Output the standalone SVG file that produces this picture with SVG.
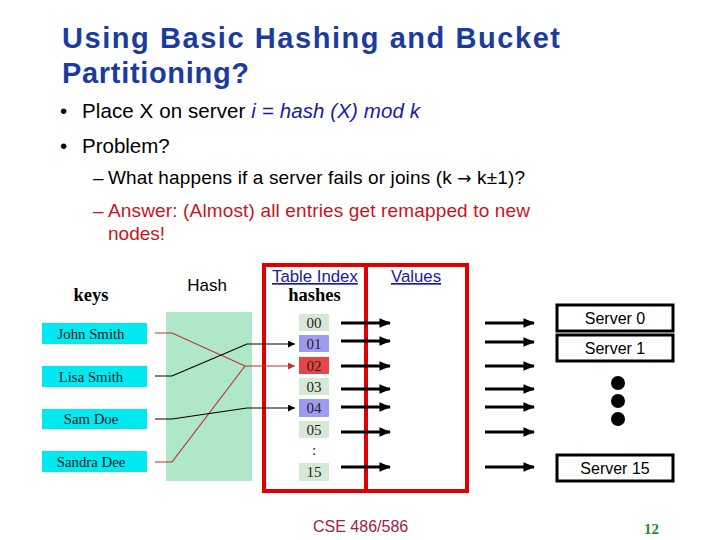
<svg xmlns="http://www.w3.org/2000/svg" width="720" height="540" viewBox="0 0 720 540">
<style>
.title{font-family:"Liberation Sans",Arial,sans-serif;font-size:29px;font-weight:bold;fill:#1B3C9E}
.body{font-family:"Liberation Sans",Arial,sans-serif;font-size:20.5px;fill:#000}
.sub{font-family:"Liberation Sans",Arial,sans-serif;font-size:19px;fill:#000}
.ans{fill:#C8141E}
.math{fill:#1A1AA6;font-style:italic}
.arw{font-family:"DejaVu Sans",sans-serif;font-size:17px}
.serifb{font-family:"Liberation Serif","Times New Roman",serif;font-weight:bold;font-size:18.5px;fill:#000}
.key rect{fill:#00E8F0}
.key text{font-family:"Liberation Serif","Times New Roman",serif;font-size:14.8px;fill:#1a1a1a;text-anchor:middle}
.cell text{font-family:"Liberation Serif","Times New Roman",serif;font-size:15px;fill:#222;text-anchor:middle}
.g{fill:#D6E8D6}.b{fill:#9C9CF0}.r{fill:#E84646}
.srv rect{fill:#fff;stroke:#000;stroke-width:3}
.srv text{font-family:"Liberation Sans",Arial,sans-serif;font-size:16px;fill:#000;text-anchor:middle}
.lbl{font-family:"Liberation Sans",Arial,sans-serif;font-size:16.8px;fill:#1A1AA6;text-decoration:underline}
.thick{stroke:#000;stroke-width:3;fill:none;marker-end:url(#big)}
.thin{stroke:#000;stroke-width:1.2;fill:none}
.red{stroke:#C03030;stroke-width:1.2;fill:none}
</style>
<defs>
<marker id="big" viewBox="0 0 12 10" refX="11" refY="5" markerWidth="4" markerHeight="3.2" orient="auto" markerUnits="strokeWidth"><path d="M0,0 L12,5 L0,10 z" fill="#000"/></marker>
<marker id="ab" viewBox="0 0 10 10" refX="10" refY="5" markerWidth="12" markerHeight="7" orient="auto" markerUnits="userSpaceOnUse"><path d="M0,0 L10,5 L0,10 z" fill="#000"/></marker>
<marker id="ar" viewBox="0 0 10 10" refX="10" refY="5" markerWidth="12" markerHeight="7" orient="auto" markerUnits="userSpaceOnUse"><path d="M0,0 L10,5 L0,10 z" fill="#C03030"/></marker>
</defs>
<rect width="720" height="540" fill="#fff"/>
<g id="title">
<text class="title" x="62" y="48" textLength="498" lengthAdjust="spacing">Using Basic Hashing and Bucket</text>
<text class="title" x="62" y="83" textLength="187" lengthAdjust="spacing">Partitioning?</text>
</g>
<g id="bullets">
<text class="body" x="60" y="118">•</text>
<text class="body" x="82" y="118" textLength="338" lengthAdjust="spacing">Place X on server <tspan class="math">i = hash (X) mod k</tspan></text>
<text class="body" x="60" y="153">•</text>
<text class="body" x="82" y="153">Problem?</text>
<text class="sub" x="93" y="184">–</text>
<text class="sub" x="108" y="184" textLength="417" lengthAdjust="spacing">What happens if a server fails or joins (k <tspan class="arw">→</tspan> k±1)?</text>
<text class="sub ans" x="93" y="217">–</text>
<text class="sub ans" x="108" y="217" textLength="422" lengthAdjust="spacing">Answer:  (Almost) all entries get remapped to new</text>
<text class="sub ans" x="108" y="240">nodes!</text>
</g>
<g id="hash">
<rect x="166" y="312" width="86" height="169" fill="#AEE8C8"/>
<text x="207" y="291" text-anchor="middle" style="font-family:'Liberation Sans',Arial,sans-serif;font-size:17px">Hash</text>
</g>
<text id="keys-label" class="serifb" x="91" y="301" text-anchor="middle">keys</text>
<g id="key-john" class="key"><rect x="42" y="323" width="105" height="21"/><text x="91" y="339">John Smith</text></g>
<g id="key-lisa" class="key"><rect x="42" y="366" width="105" height="21"/><text x="91" y="382">Lisa Smith</text></g>
<g id="key-sam" class="key"><rect x="42" y="409" width="105" height="20"/><text x="91" y="424">Sam Doe</text></g>
<g id="key-sandra" class="key"><rect x="42" y="451" width="105" height="21"/><text x="91" y="467">Sandra Dee</text></g>
<g id="table-frame">
<rect x="264" y="265" width="203" height="226" fill="none" stroke="#E00000" stroke-width="4"/>
<line x1="366" y1="265" x2="366" y2="491" stroke="#E00000" stroke-width="4"/>
<text class="lbl" x="272" y="282">Table Index</text>
<text class="lbl" x="391" y="282">Values</text>
<text class="serifb" x="314.5" y="301" text-anchor="middle">hashes</text>
</g>
<g id="cell-00" class="cell"><rect class="g" x="299" y="314" width="30" height="17"/><text x="314" y="328">00</text></g>
<g id="cell-01" class="cell"><rect class="b" x="299" y="335" width="30" height="17"/><text x="314" y="349">01</text></g>
<g id="cell-02" class="cell"><rect class="r" x="299" y="357" width="30" height="17"/><text x="314" y="371">02</text></g>
<g id="cell-03" class="cell"><rect class="g" x="299" y="378" width="30" height="17"/><text x="314" y="392">03</text></g>
<g id="cell-04" class="cell"><rect class="b" x="299" y="399" width="30" height="18"/><text x="314" y="413">04</text></g>
<g id="cell-05" class="cell"><rect class="g" x="299" y="421" width="30" height="17"/><text x="314" y="435">05</text></g>
<g id="cell-dots" class="cell"><text x="314" y="455">:</text></g>
<g id="cell-15" class="cell"><rect class="g" x="299" y="463" width="30" height="18"/><text x="314" y="477">15</text></g>
<g id="server-0" class="srv"><rect x="557" y="305" width="116" height="26"/><text x="615" y="324">Server 0</text></g>
<g id="server-1" class="srv"><rect x="557" y="335" width="116" height="26"/><text x="615" y="354">Server 1</text></g>
<g id="server-15" class="srv"><rect x="557" y="455" width="116" height="26"/><text x="615" y="474">Server 15</text></g>
<g id="ellipsis" fill="#000">
<circle cx="618" cy="383" r="7"/><circle cx="618" cy="401" r="7"/><circle cx="618" cy="419" r="7"/>
</g>
<g id="connectors">
<polyline class="red" points="155,333 172,333 245,366 295,366" marker-end="url(#ar)"/>
<polyline class="red" points="155,462 172,462 245,366"/>
<polyline class="thin" points="155,376 172,376 247,344 295,344" marker-end="url(#ab)"/>
<polyline class="thin" points="155,419 172,419 247,408 295,408" marker-end="url(#ab)"/>
<line class="thick" x1="341" y1="323" x2="390" y2="323"/>
<line class="thick" x1="341" y1="341" x2="390" y2="341"/>
<line class="thick" x1="341" y1="366" x2="390" y2="366"/>
<line class="thick" x1="341" y1="389" x2="390" y2="389"/>
<line class="thick" x1="341" y1="407" x2="390" y2="407"/>
<line class="thick" x1="341" y1="432" x2="390" y2="432"/>
<line class="thick" x1="341" y1="467" x2="390" y2="467"/>
<line class="thick" x1="485" y1="323" x2="534" y2="323"/>
<line class="thick" x1="485" y1="342" x2="534" y2="342"/>
<line class="thick" x1="485" y1="366" x2="534" y2="366"/>
<line class="thick" x1="485" y1="389" x2="534" y2="389"/>
<line class="thick" x1="485" y1="407" x2="534" y2="407"/>
<line class="thick" x1="485" y1="432" x2="534" y2="432"/>
<line class="thick" x1="485" y1="467" x2="534" y2="467"/>
</g>
<g id="footer">
<text x="313" y="532" style="font-family:'Liberation Sans',Arial,sans-serif;font-size:16px;fill:#A0204A">CSE 486/586</text>
<text x="644" y="534" style="font-family:'Liberation Serif','Times New Roman',serif;font-size:15px;font-weight:bold;fill:#1E8C1E">12</text>
</g>
</svg>
